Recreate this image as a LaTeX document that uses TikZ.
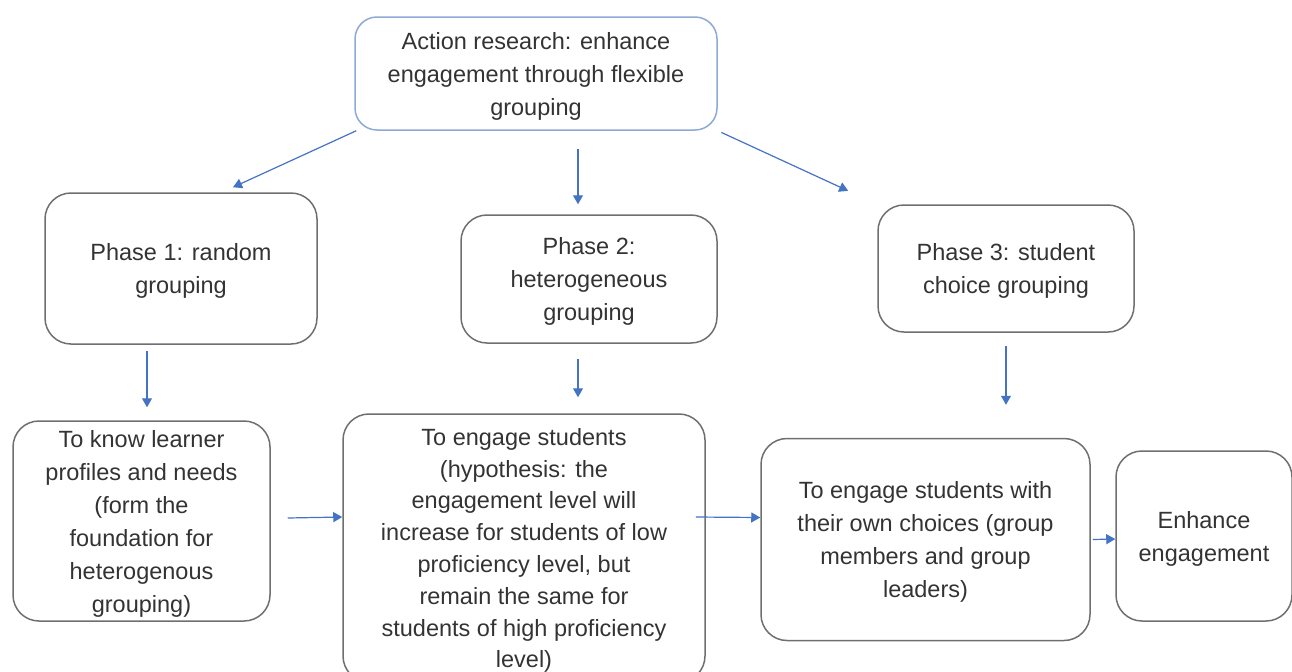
\documentclass[tikz,border=0pt]{standalone}
\usepackage{fontspec}
\setmainfont{Liberation Sans}
\usetikzlibrary{arrows.meta}
\definecolor{boxgray}{HTML}{6F6F6F}
\definecolor{topblue}{HTML}{8EA9D6}
\definecolor{arrblue}{HTML}{4472C4}
\definecolor{txtgray}{HTML}{333333}
\begin{document}
\begin{tikzpicture}[x=0.5pt,y=-0.5pt,
  box/.style={draw=boxgray,text=txtgray,line width=0.75pt,rounded corners=13pt,align=center,
    inner sep=0pt,text depth=-2pt,font=\fontsize{11.75pt}{16.5pt}\selectfont},
  arr/.style={arrblue,line width=0.6pt,-{Triangle[width=5pt,length=4.5pt]}}]
\clip (0,0) rectangle (1292,671);

\node[box,draw=topblue,rounded corners=11pt,minimum width=181pt,minimum height=56.5pt] (top) at (536,73.5)
  {Action research: enhance\\engagement through flexible\\grouping};

\node[box,minimum width=136pt,minimum height=75.5pt] (ph1) at (181,268.5) {Phase 1: random\\grouping};
\node[box,minimum width=128pt,minimum height=64pt] (ph2) at (589,279) {Phase 2:\\heterogeneous\\grouping};
\node[box,minimum width=128pt,minimum height=63.5pt] (ph3) at (1006,268.5) {Phase 3: student\\choice grouping};

\node[box,minimum width=128.5pt,minimum height=100pt] (know) at (141.5,521)
  {To know learner\\profiles and needs\\(form the\\foundation for\\heterogenous\\grouping)};
\node[box,minimum width=181pt,minimum height=134pt,font=\fontsize{11.75pt}{15.9pt}\selectfont] (engage) at (524,548)
  {To engage students\\(hypothesis: the\\engagement level will\\increase for students of low\\proficiency level, but\\remain the same for\\students of high proficiency\\level)};
\node[box,minimum width=164.5pt,minimum height=101pt] (choice) at (925.5,539.5)
  {To engage students with\\their own choices (group\\members and group\\leaders)};
\node[box,minimum width=88pt,minimum height=85pt] (enh) at (1204,536) {Enhance\\engagement};

\draw[arr] ([xshift=1pt]top.south west) -- ([xshift=26pt,yshift=2.5pt]ph1.north);
\draw[arr] ([xshift=21pt,yshift=-9pt]top.south) -- ([xshift=-5.5pt,yshift=5pt]ph2.north);
\draw[arr,shorten <=2pt,shorten >=16pt] (top.south east) -- (ph3.north west);

\draw[arr] ([xshift=-17pt,yshift=-3pt]ph1.south) -- ([xshift=2.75pt,yshift=6.5pt]know.north);
\draw[arr] ([xshift=-5.5pt,yshift=-7.5pt]ph2.south) -- ([xshift=27pt,yshift=8pt]engage.north);
\draw[arr] ([yshift=-6.5pt]ph3.south) -- ([xshift=40.25pt,yshift=16.5pt]choice.north);

\draw[arr] ([xshift=8.5pt,yshift=1.5pt]know.east) -- ([yshift=15.5pt]engage.west);
\draw[arr] ([xshift=-5pt,yshift=15.5pt]engage.east) -- ([yshift=11pt]choice.west);
\draw[arr] ([xshift=1pt]choice.east) -- ([yshift=-1.5pt]enh.west);
\end{tikzpicture}
\end{document}
